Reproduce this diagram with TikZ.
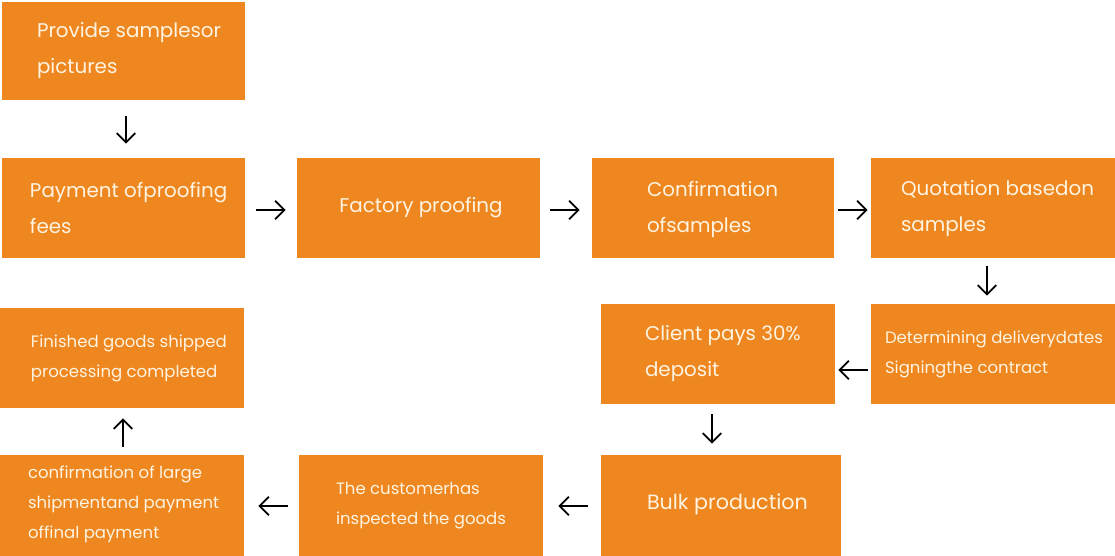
\documentclass[tikz,border=0pt]{standalone}
\usepackage{fontspec}
\setmainfont{Poppins}
\usetikzlibrary{arrows.meta,calc}
\definecolor{boxorange}{HTML}{EE871F}
\definecolor{cream}{HTML}{FFF4E2}
\tikzset{
  box/.style 2 args={fill=boxorange, draw=none, inner sep=0pt,
    minimum width=#1*0.75pt, minimum height=#2*0.75pt},
  bigtxt/.style={text=cream, align=left, inner sep=0pt,
    font=\fontsize{14.9pt}{27pt}\selectfont},
  smalltxt/.style={text=cream, align=left, inner sep=0pt,
    font=\fontsize{12.4pt}{22.5pt}\selectfont},
  flow/.style={draw=black, line width=1.35pt,
    -{Straight Barb[length=7pt,width=14pt,line width=1.35pt]}},
}
\begin{document}
\begin{tikzpicture}[x=0.75pt,y=-0.75pt]
\useasboundingbox (0,0) rectangle (1115,556);
% boxes
\node[box={243}{98}]  (b1)  at (123.5,51)   {};
\node[box={243}{100}] (b2)  at (123.5,208)  {};
\node[box={243}{100}] (b3)  at (418.5,208)  {};
\node[box={242}{100}] (b4)  at (713,208)    {};
\node[box={244}{100}] (b5)  at (993,208)    {};
\node[box={244}{100}] (b6)  at (993,354)    {};
\node[box={234}{100}] (b7)  at (718,354)    {};
\node[box={240}{101}] (b8)  at (721,505.5)  {};
\node[box={244}{101}] (b9)  at (421,505.5)  {};
\node[box={244}{101}] (b10) at (122,505.5)  {};
\node[box={244}{100}] (b11) at (122,358)    {};
% texts
\node[bigtxt, anchor=west] (t1) at ($(b1.west)+(35,0)$) {Provide samplesor\\pictures};
\node[bigtxt, anchor=west] (t2) at ($(b2.west)+(28,0)$) {Payment ofproofing\\fees};
\node[bigtxt] (t3) at ($(b3.center)+(2.5,0)$) {Factory proofing};
\node[bigtxt, anchor=west] (t4) at ($(b4.west)+(55,1)$) {Confirmation\\ofsamples};
\node[bigtxt, anchor=west] (t5) at ($(b5.west)+(30,1)$) {Quotation basedon\\samples};
\node[smalltxt, anchor=west] (t6) at ($(b6.west)+(14,0)$) {Determining deliverydates\\Signingthe contract};
\node[bigtxt, anchor=west] (t7) at ($(b7.west)+(44,0)$) {Client pays 30\%\\deposit};
\node[bigtxt, anchor=west, font=\fontsize{15.5pt}{27pt}\selectfont] (t8) at ($(b8.west)+(46,-1)$) {Bulk production};
\node[smalltxt, anchor=west] (t9) at ($(b9.west)+(37,0)$) {The customerhas\\inspected the goods};
\node[smalltxt, anchor=west] (t10) at ($(b10.west)+(28,-1)$) {confirmation of large\\shipmentand payment\\offinal payment};
\node[smalltxt, anchor=west] (t11) at ($(b11.west)+(31,0)$) {Finished goods shipped\\processing completed};
% arrows
\draw[flow, shorten <=12pt, shorten >=10.5pt] ($(b1.south)+(2.5,0)$) -- ($(b2.north)+(2.5,0)$);
\draw[flow, shorten <=8.25pt, shorten >=8.25pt] ($(b2.east)+(0,2)$) -- ($(b3.west)+(0,2)$);
\draw[flow, shorten <=7.5pt, shorten >=9pt] ($(b3.east)+(0,2)$) -- ($(b4.west)+(0,2)$);
\draw[flow, shorten <=3pt, shorten >=2.25pt] ($(b4.east)+(0,2)$) -- ($(b5.west)+(0,2)$);
\draw[flow, shorten <=6pt, shorten >=6pt] ($(b5.south)+(-6,0)$) -- ($(b6.north)+(-6,0)$);
\draw[flow, shorten <=2.25pt, shorten >=2.25pt] ($(b6.west)+(0,16)$) -- ($(b7.east)+(0,16)$);
\draw[flow, shorten <=7.5pt, shorten >=8.25pt] ($(b7.south)+(-6,0)$) -- ($(b8.north)+(-9,0)$);
\draw[flow, shorten <=9.75pt, shorten >=11.25pt] ($(b8.west)+(0,0.5)$) -- ($(b9.east)+(0,0.5)$);
\draw[flow, shorten <=8.25pt, shorten >=10.5pt] ($(b9.west)+(0,0.5)$) -- ($(b10.east)+(0,0.5)$);
\draw[flow, shorten <=6pt, shorten >=7.5pt] ($(b10.north)+(1,0)$) -- ($(b11.south)+(1,0)$);
\end{tikzpicture}
\end{document}
